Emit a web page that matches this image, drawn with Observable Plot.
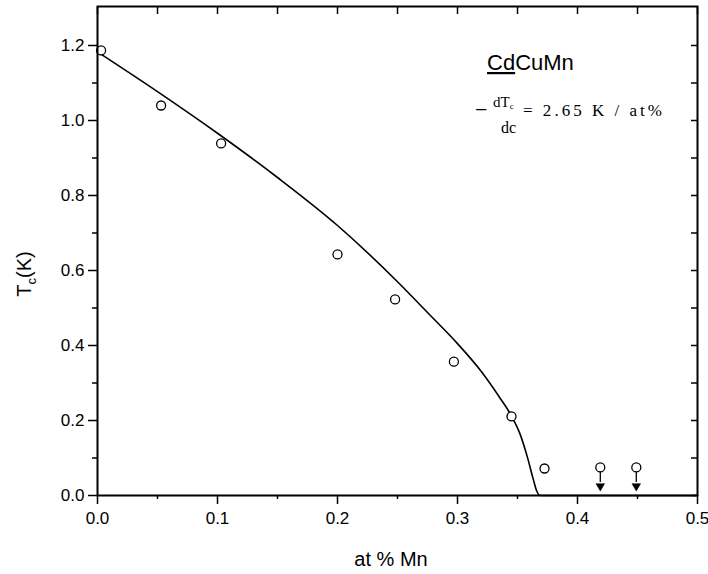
<!DOCTYPE html>
<html>
<head>
<meta charset="utf-8">
<script src="https://cdn.jsdelivr.net/npm/d3@7"></script>
<script src="https://cdn.jsdelivr.net/npm/@observablehq/plot@0.6"></script>
<style>
  html, body { margin: 0; padding: 0; background: white; }
  #chart { width: 708px; height: 574px; }
</style>
</head>
<body>
<div id="chart"></div>
<script>
// Measured Tc data (at % Mn, K)
const conc = [0.003, 0.053, 0.103, 0.200, 0.248, 0.297, 0.345, 0.3725, 0.419, 0.449];
const tc   = [1.187, 1.040, 0.939, 0.643, 0.523, 0.357, 0.211, 0.072, 0.075, 0.075];
// Upper-limit points (arrows)
const limitConc = [0.419, 0.449];
const limitTc   = [0.075, 0.075];
// Theoretical curve
const curveConc = [0.000, 0.050, 0.100, 0.150, 0.200, 0.250, 0.275, 0.300, 0.320, 0.335, 0.345, 0.352, 0.358, 0.363, 0.366, 0.369, 0.500];
const curveTc   = [1.183, 1.077, 0.966, 0.848, 0.720, 0.570, 0.488, 0.405, 0.330, 0.262, 0.212, 0.165, 0.105, 0.045, 0.012, 0.000, 0.000];
// Tick values
const xTicks = [0, 0.1, 0.2, 0.3, 0.4, 0.5];
const xMinor = [0.05, 0.15, 0.25, 0.35, 0.45];
const yTicks = [0, 0.2, 0.4, 0.6, 0.8, 1.0, 1.2];
const yMinor = [0.1, 0.3, 0.5, 0.7, 0.9, 1.1];

const points = conc.map((c, i) => ({c, t: tc[i]}));
const curve = curveConc.map((c, i) => ({c, t: curveTc[i]}));
const limits = limitConc.map((c, i) => ({c, t: limitTc[i]}));

const blank = () => "";
const svg = Plot.plot({
  width: 708,
  height: 574,
  marginLeft: 97,
  marginRight: 11,
  marginTop: 6,
  marginBottom: 79,
  x: {domain: [0, 0.5]},
  y: {domain: [0, 1.304]},
  style: {fontFamily: "'Liberation Sans', Arial, sans-serif", fontSize: "17px", background: "white", color: "black"},
  marks: [
    Plot.axisX({ticks: xTicks, tickSize: 9, tickPadding: 7, tickFormat: d3.format(".1f"), label: null, strokeWidth: 1.5, fontSize: 17}),
    Plot.axisX({ticks: xMinor, tickSize: 4, tickFormat: blank, label: null, strokeWidth: 1.5}),
    Plot.axisX({anchor: "top", ticks: xTicks.concat(xMinor), tickSize: -7, tickFormat: blank, label: null, strokeWidth: 1.5}),
    Plot.axisY({ticks: yTicks, tickSize: 9, tickPadding: 4, tickFormat: d3.format(".1f"), label: null, strokeWidth: 1.5, fontSize: 17}),
    Plot.axisY({ticks: yMinor, tickSize: 5, tickFormat: blank, label: null, strokeWidth: 1.5}),
    Plot.axisY({anchor: "right", ticks: yTicks.concat(yMinor), tickSize: -7, tickFormat: blank, label: null, strokeWidth: 1.5}),
    Plot.line(curve, {x: "c", y: "t", stroke: "black", strokeWidth: 1.6, curve: "monotone-x"}),
    Plot.dot(points, {x: "c", y: "t", r: 4.5, stroke: "black", strokeWidth: 1.3, fill: "white"}),
    Plot.ruleX(limits, {x: "c", y1: d => d.t - 0.013, y2: d => d.t - 0.04, stroke: "black", strokeWidth: 1.3}),
    Plot.dot(limits, {x: "c", y: d => d.t - 0.05, symbol: "triangle", rotate: 180, r: 3.2, fill: "black", stroke: "black", strokeWidth: 0.5}),
    Plot.frame({stroke: "black", strokeWidth: 2})
  ]
});

const s = d3.select(svg);
// Axis titles
s.append("text")
  .attr("x", 391).attr("y", 566)
  .attr("text-anchor", "middle")
  .attr("font-family", "'Liberation Sans', Arial, sans-serif")
  .attr("font-size", 20)
  .attr("fill", "black")
  .text("at % Mn");

const yl = s.append("text")
  .attr("transform", "translate(31,274) rotate(-90)")
  .attr("text-anchor", "middle")
  .attr("font-family", "'Liberation Sans', Arial, sans-serif")
  .attr("font-size", 20)
  .attr("fill", "black");
yl.append("tspan").text("T");
yl.append("tspan").attr("font-size", 13).attr("dy", 5).text("c");
yl.append("tspan").attr("dy", -5).text("(K)");

// Annotation: compound name
const title = s.append("text")
  .attr("x", 487).attr("y", 70)
  .attr("text-anchor", "start")
  .attr("font-family", "'Liberation Sans', Arial, sans-serif")
  .attr("font-size", 22)
  .attr("fill", "black");
title.append("tspan").style("text-decoration", "underline").text("Cd");
title.append("tspan").text("CuMn");

// Annotation: slope formula
const serif = "'Liberation Serif', 'Times New Roman', serif";
s.append("text").attr("x", 475).attr("y", 117).attr("text-anchor", "start")
  .attr("font-family", serif).attr("font-size", 22).attr("fill", "black").text("\u2212");
const num = s.append("text").attr("x", 493).attr("y", 107).attr("text-anchor", "start")
  .attr("font-family", serif).attr("font-size", 15).attr("fill", "black");
num.append("tspan").text("dT");
num.append("tspan").attr("font-size", 9).attr("dy", 2).text("c");
s.append("text").attr("x", 501).attr("y", 133).attr("text-anchor", "start")
  .attr("font-family", serif).attr("font-size", 16).attr("fill", "black").text("dc");
s.append("text").attr("x", 523).attr("y", 116).attr("text-anchor", "start")
  .attr("font-family", serif).attr("font-size", 17).attr("fill", "black")
  .attr("textLength", 139).attr("lengthAdjust", "spacing")
  .text("= 2.65 K / at%");

document.getElementById("chart").appendChild(svg);
</script>
</body>
</html>
